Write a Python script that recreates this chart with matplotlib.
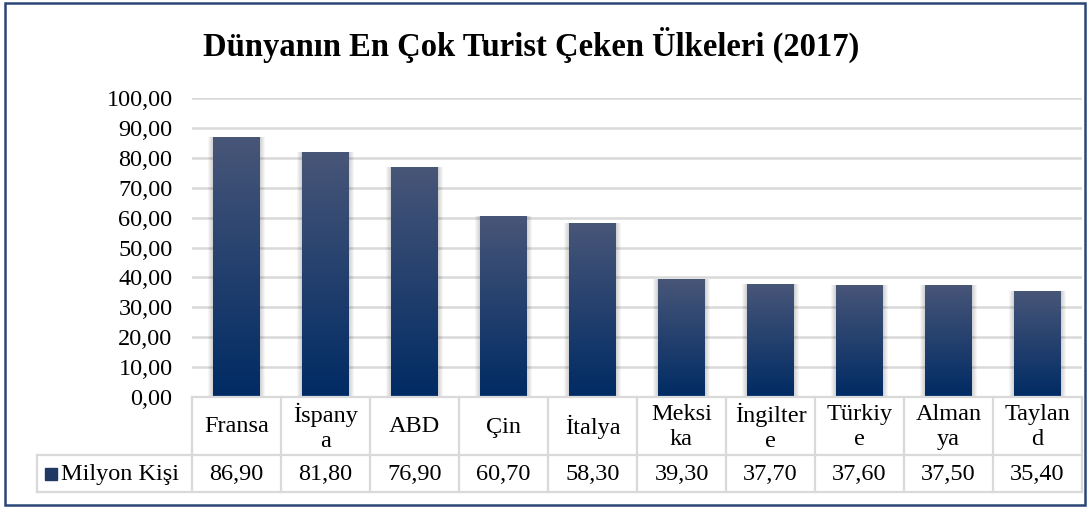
import numpy as np
import matplotlib.pyplot as plt
from matplotlib.colors import LinearSegmentedColormap
from matplotlib.patches import Rectangle
from matplotlib.lines import Line2D

countries = ['Fransa', 'İspanya', 'ABD', 'Çin', 'İtalya', 'Meksika',
             'İngiltere', 'Türkiye', 'Almanya', 'Tayland']
# header text as it wraps in the table cells
header = ['Fransa', 'İspany\na', 'ABD', 'Çin', 'İtalya', 'Meksi\nka',
          'İngilter\ne', 'Türkiy\ne', 'Alman\nya', 'Taylan\nd']
values = [86.90, 81.80, 76.90, 60.70, 58.30, 39.30, 37.70, 37.60, 37.50, 35.40]
series_name = 'Milyon Kişi'
title = 'Dünyanın En Çok Turist Çeken Ülkeleri (2017)'
yticks = np.arange(0, 101, 10)

plt.rcParams['font.family'] = ['Liberation Serif', 'DejaVu Serif']
fs = 17.5

W, H = 1089, 507
fig = plt.figure(figsize=(W / 100, H / 100), dpi=100)

def fx(px):
    return px / W

def fy(py):
    return 1 - py / H

left, right, top, bottom = 192, 1082, 98, 397
ax = fig.add_axes([fx(left), fy(bottom), fx(right - left), fy(top) - fy(bottom)])

n = len(values)
x = np.arange(n)
bw = 0.52
grid_c = '#d9d9d9'

for t in yticks[1:]:
    ax.axhline(t, color=grid_c, lw=1.8, zorder=0)

# soft shadow
for k in range(6):
    ax.bar(x, np.array(values) + 0.25 * k, width=bw + 0.025 * k, bottom=-0.25 * k,
           color='#000000', alpha=0.035, lw=0, zorder=1)

cmap = LinearSegmentedColormap.from_list('g', ['#002B64', '#485678'])
grad = np.linspace(0, 1, 256).reshape(-1, 1)
bars = ax.bar(x, values, width=bw, color='none', lw=0, zorder=2)
for b in bars:
    x0, w, h = b.get_x(), b.get_width(), b.get_height()
    im = ax.imshow(grad, extent=[x0, x0 + w, 0, h], origin='lower', aspect='auto',
                   cmap=cmap, zorder=3, interpolation='bilinear')
    im.set_clip_path(b)

ax.set_xlim(-0.5, n - 0.5)
ax.set_ylim(0, 100)
ax.set_yticks(yticks)
ax.set_yticklabels([f'{v:.2f}'.replace('.', ',') for v in yticks], fontsize=fs)
ax.tick_params(axis='y', length=0, pad=14)
ax.set_xticks([])
for s in ax.spines.values():
    s.set_visible(False)

# data table under the plot
row1_top, row1_bot, row2_bot = 397, 455, 492
leg_left = 37
col_w = (right - left) / n
lkw = dict(color=grid_c, lw=1.6, transform=fig.transFigure)
fig.add_artist(Line2D([fx(left), fx(right)], [fy(row1_top)] * 2, **lkw))
fig.add_artist(Line2D([fx(leg_left), fx(right)], [fy(row1_bot)] * 2, **lkw))
fig.add_artist(Line2D([fx(leg_left), fx(right)], [fy(row2_bot)] * 2, **lkw))
fig.add_artist(Line2D([fx(leg_left)] * 2, [fy(row1_bot), fy(row2_bot)], **lkw))
for i in range(n + 1):
    xp = left + i * col_w
    fig.add_artist(Line2D([fx(xp)] * 2, [fy(row1_top), fy(row2_bot)], **lkw))

for i in range(n):
    xc = fx(left + (i + 0.5) * col_w)
    fig.text(xc, fy((row1_top + row1_bot) / 2 + 1), header[i], ha='center', va='center',
             fontsize=fs, linespacing=1.25)
    fig.text(xc, fy((row1_bot + row2_bot) / 2 + 1), f'{values[i]:.2f}'.replace('.', ','),
             ha='center', va='center', fontsize=fs)

fig.add_artist(Rectangle((fx(45), fy(480)), fx(12), fy(468) - fy(480),
                         color='#1F3864', transform=fig.transFigure))
fig.text(fx(61), fy((row1_bot + row2_bot) / 2 + 1), series_name, ha='left', va='center',
         fontsize=fs)

fig.text(fx(531), fy(45), title, ha='center', va='center', fontsize=23.5, fontweight='bold')

fig.add_artist(Rectangle((fx(5), fy(505)), fx(1080), fy(3) - fy(505), fill=False,
                         edgecolor='#2A4677', lw=1.8, transform=fig.transFigure))

fig.savefig('out.png', dpi=100)
